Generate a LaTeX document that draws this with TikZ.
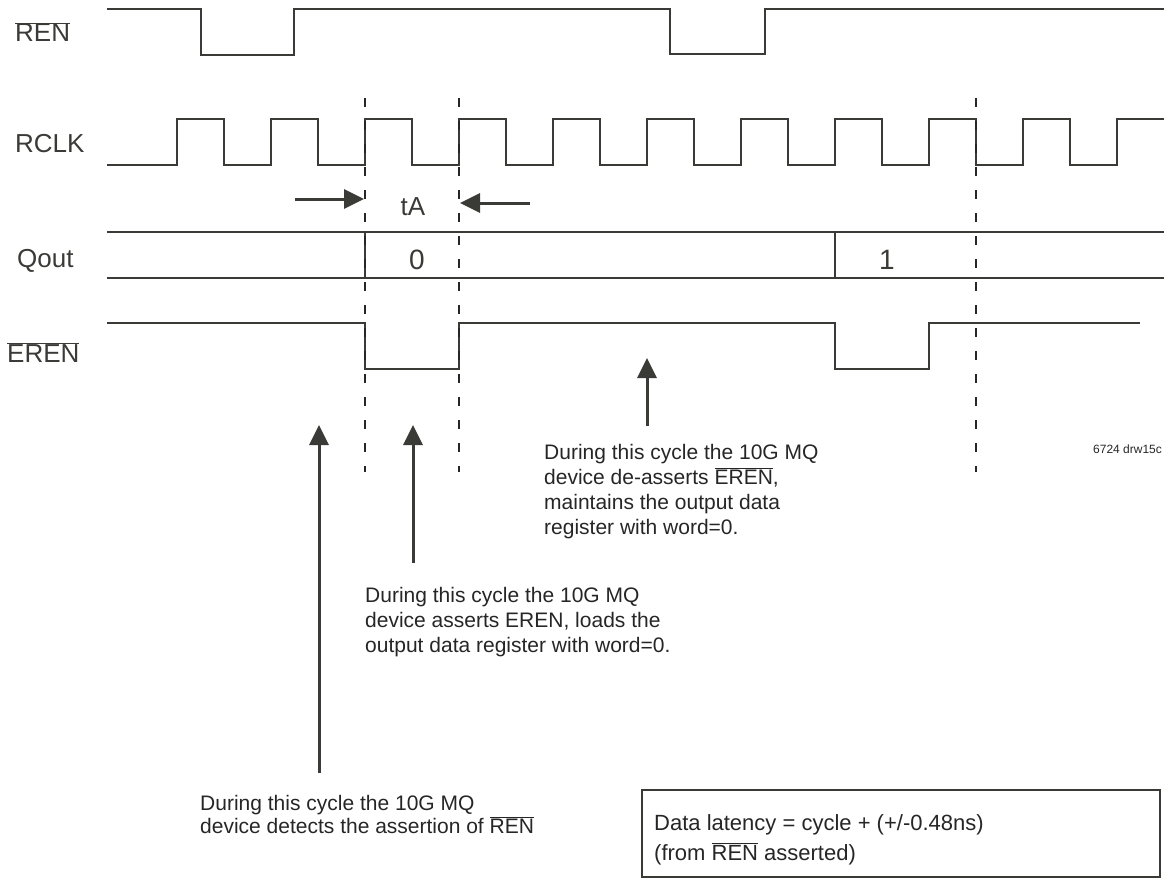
\documentclass[tikz,border=0pt]{standalone}
\usepackage{fontspec}
\setmainfont{Liberation Sans}
\usetikzlibrary{arrows.meta}
\definecolor{ink}{RGB}{58,58,54}
\newcommand{\ovl}[1]{$\overline{\mbox{#1}}$}
\begin{document}
\begin{tikzpicture}[x=1pt,y=-1pt,
  wave/.style={draw=ink,line width=2.4pt,line join=miter},
  guide/.style={draw=black!85,line width=2pt,dash pattern=on 9pt off 14pt},
  pointer/.style={draw=ink,line width=3pt,-{Triangle[length=20pt,width=19pt]}},
  lbl/.style={text=ink,inner sep=0pt,font=\fontsize{26}{30}\selectfont},
  note/.style={text=black!85,inner sep=0pt,align=left,font=\fontsize{21}{25}\selectfont},
  infobox/.style={draw=ink,line width=2pt,inner sep=0pt,minimum width=518pt,minimum height=87pt}]
\useasboundingbox (0,0) rectangle (1164,880);

% signal labels
\node[lbl,anchor=base west] (lren) at (15,42) {\ovl{REN}};
\node[lbl,anchor=base west] (lrclk) at (15,152) {RCLK};
\node[lbl,anchor=base west] (lqout) at (17,267) {Qout};
\node[lbl,anchor=base west] (leren) at (7,362) {\ovl{EREN}};

% REN
\draw[wave] (107,9) -- (201,9) -- (201,55) -- (294,55) -- (294,9) -- (670,9) -- (670,54) -- (765,54) -- (765,9) -- (1164,9);

% RCLK
\draw[wave] (107,165)
  \foreach \r in {177,271,365,459,553,647,741,835,929,1023} {
    -- (\r,165) -- (\r,119) -- ({\r+47},119) -- ({\r+47},165)
  }
  -- (1117,165) -- (1117,119) -- (1164,119);

% Qout
\draw[wave] (107,232) -- (1164,232);
\draw[wave] (107,278) -- (1164,278);
\draw[wave] (365,232) -- (365,278);
\draw[wave] (835,232) -- (835,278);
\node[lbl,anchor=base,font=\fontsize{28}{32}\selectfont] (q0) at (417,269) {0};
\node[lbl,anchor=base,font=\fontsize{28}{32}\selectfont] (q1) at (887,269) {1};

% EREN
\draw[wave] (107,323) -- (365,323) -- (365,369) -- (459,369) -- (459,323) -- (835,323) -- (835,369) -- (929,369) -- (929,323) -- (1140,323);

% dashed guides
\coordinate (g1t) at (365,98); \coordinate (g1b) at (365,472);
\coordinate (g2t) at (459,98); \coordinate (g2b) at (459,472);
\coordinate (g3t) at (976,98); \coordinate (g3b) at (976,472);
\draw[guide] (g1t) -- (g1b);
\draw[guide] (g2t) -- (g2b);
\draw[guide] (g3t) -- (g3b);

% tA
\node[lbl,anchor=base] (ta) at (413,215) {tA};
\coordinate (a1s) at (295,199); \coordinate (a1e) at (364,199);
\coordinate (a2s) at (530,203); \coordinate (a2e) at (460,203);
\draw[pointer] (a1s) -- (a1e);
\draw[pointer] (a2s) -- (a2e);

% notes
\node[note,anchor=north west] (n1) at (544,444) {During this cycle the 10G MQ\\device de-asserts \ovl{EREN},\\maintains the output data\\register with word=0.};
\node[note,anchor=north west] (n2) at (365,587) {During this cycle the 10G MQ\\device asserts EREN, loads the\\output data register with word=0.};
\node[note,anchor=north west,font=\fontsize{21}{23}\selectfont] (n3) at (200,795) {During this cycle the 10G MQ\\device detects the assertion of \ovl{REN}};
\node[text=black!85,inner sep=0pt,anchor=west,font=\fontsize{12}{14}\selectfont] (drw) at (1093,449) {6724 drw15c};

% pointers to notes
\coordinate (p3s) at (647,426); \coordinate (p3e) at (647,358);
\coordinate (p2s) at (413,563); \coordinate (p2e) at (413,425);
\coordinate (p1s) at (319,773); \coordinate (p1e) at (319,425);
\draw[pointer] (p3s) -- (p3e);
\draw[pointer] (p2s) -- (p2e);
\draw[pointer] (p1s) -- (p1e);

% latency box
\node[infobox,anchor=north west] (box) at (641,789) {};
\node[note,anchor=north west,font=\fontsize{22}{30}\selectfont] (boxtext) at (654,814) {Data latency = cycle + (+/-0.48ns)\\(from \ovl{REN} asserted)};
\end{tikzpicture}
\end{document}
